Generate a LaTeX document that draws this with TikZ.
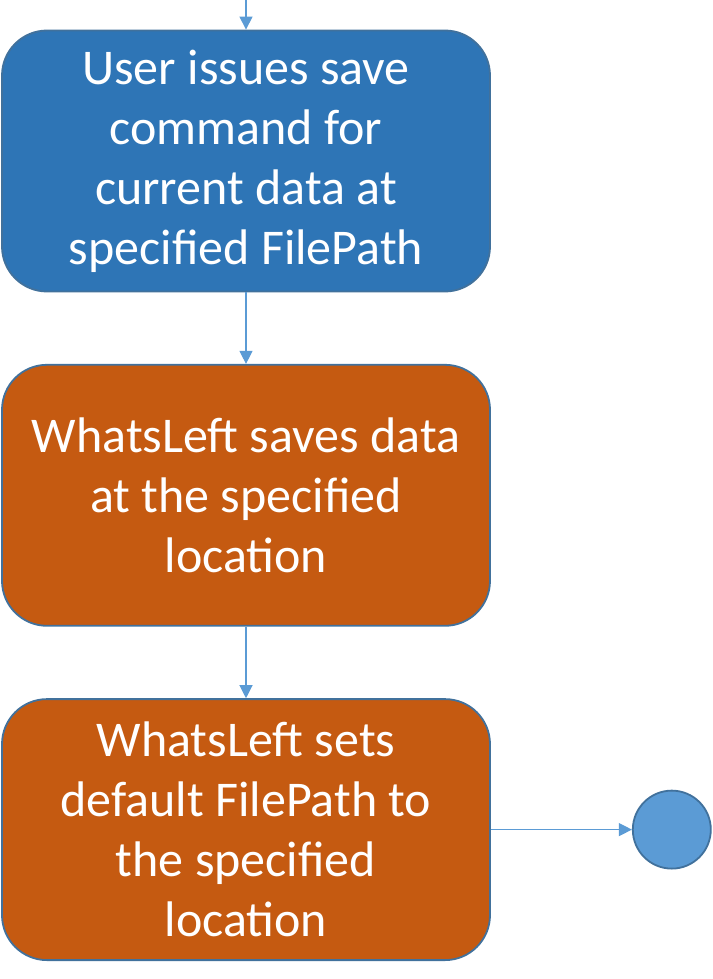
\documentclass[tikz,border=0pt]{standalone}
\usepackage{fontspec}
\setmainfont{Carlito}
\usetikzlibrary{arrows.meta,positioning}

\definecolor{stepblue}{HTML}{2E75B6}
\definecolor{steporange}{HTML}{C55A11}
\definecolor{edgeblue}{HTML}{41719C}
\definecolor{flowblue}{HTML}{5B9BD5}

\begin{document}
\begin{tikzpicture}[x=1pt,y=1pt,node distance=71.5pt,
        flow/.style={color=flowblue,line width=1.2pt,-{Triangle[length=13pt,width=13pt]}},
        step node/.style={rectangle,rounded corners=45pt,draw=edgeblue,line width=1.8pt,
          minimum width=488pt,minimum height=261pt,align=center,
          text=white,font=\fontsize{50}{60}\selectfont},
        end node/.style={circle,fill=flowblue,draw=edgeblue,line width=1.8pt,minimum size=78pt,inner sep=0pt}]

        \useasboundingbox (0,0) rectangle (712,-979);

        \coordinate (in) at (246,0);
        \node[step node,fill=stepblue] (1) at (246,-161) {User issues save\\command for\\current data at\\specified FilePath};
        \node[step node,fill=steporange] (2) [below=of 1] {WhatsLeft saves data\\at the specified\\location};
        \node[step node,fill=steporange] (3) [below=of 2] {WhatsLeft sets\\default FilePath to\\the specified\\location};
        \node[end node] (4) [right=141pt of 3] {};

        \draw[flow] (in) -- (1);
        \draw[flow] (1) -- (2);
        \draw[flow] (2) -- (3);
        \draw[flow] (3) -- (4);
      \end{tikzpicture}
\end{document}
